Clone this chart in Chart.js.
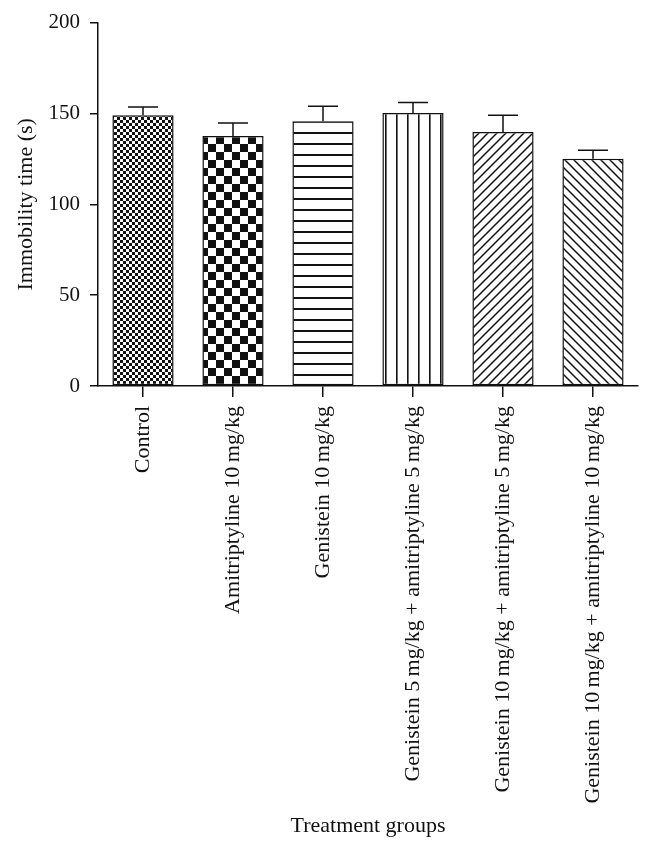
<!DOCTYPE html>
<html>
<head>
<meta charset="utf-8">
<script src="https://cdn.jsdelivr.net/npm/chart.js@4.4.1/dist/chart.umd.min.js"></script>
<style>
  html,body{margin:0;padding:0;background:#fff;}
  #wrap{width:653px;height:848px;}
</style>
</head>
<body>
<div id="wrap"><canvas id="c" width="653" height="848"></canvas></div>
<script>
/* data */
const groups=['Control','Amitriptyline 10\u2009mg/kg','Genistein 10\u2009mg/kg',
  'Genistein 5\u2009mg/kg + amitriptyline 5\u2009mg/kg',
  'Genistein 10\u2009mg/kg + amitriptyline 5\u2009mg/kg',
  'Genistein 10\u2009mg/kg + amitriptyline 10\u2009mg/kg'];
const immobility=[149.0,137.6,145.7,150.2,139.8,125.1];
const sem=[4.5,7.2,8.2,5.8,9.2,4.6];
const yTicks=[0,50,100,150,200];

const INK='#111';
const FONT='"Liberation Serif", "DejaVu Serif", serif';

/* fill patterns, one per bar */
function pat(w,h,draw){
  const cv=document.createElement('canvas');
  cv.width=w;cv.height=h;
  const g=cv.getContext('2d');
  g.fillStyle='#fff';g.fillRect(0,0,w,h);
  g.fillStyle=INK;g.strokeStyle=INK;
  draw(g,w,h);
  return document.getElementById('c').getContext('2d').createPattern(cv,'repeat');
}
function checker(s){
  return pat(s*2,s*2,(g)=>{g.fillRect(0,0,s,s);g.fillRect(s,s,s,s);});
}
const fills=[
  checker(3),
  checker(8),
  pat(11,11,(g,w)=>{g.fillRect(0,0,w,2);}),
  pat(11,11,(g,w,h)=>{g.fillRect(0,0,1.6,h);}),
  pat(9,9,(g,w,h)=>{g.lineWidth=1.5;g.beginPath();
    g.moveTo(-1,h+1);g.lineTo(w+1,-1);
    g.moveTo(-1,1);g.lineTo(1,-1);
    g.moveTo(w-1,h+1);g.lineTo(w+1,h-1);g.stroke();}),
  pat(9,9,(g,w,h)=>{g.lineWidth=1.5;g.beginPath();
    g.moveTo(-1,-1);g.lineTo(w+1,h+1);
    g.moveTo(w-1,-1);g.lineTo(w+1,1);
    g.moveTo(-1,h-1);g.lineTo(1,h+1);g.stroke();})
];

/* upward SEM whiskers */
const errorBars={
  id:'errorBars',
  afterDatasetsDraw(chart){
    const {ctx,scales:{x,y}}=chart;
    ctx.save();
    ctx.strokeStyle=INK;ctx.lineWidth=1.5;
    immobility.forEach((v,i)=>{
      const px=x.getPixelForValue(i);
      const top=y.getPixelForValue(v+sem[i]);
      ctx.beginPath();
      ctx.moveTo(px,y.getPixelForValue(v));ctx.lineTo(px,top);
      ctx.moveTo(px-15,top);ctx.lineTo(px+15,top);
      ctx.stroke();
    });
    ctx.restore();
  }
};

new Chart(document.getElementById('c'),{
  type:'bar',
  data:{labels:groups,datasets:[{
    data:immobility,
    backgroundColor:fills,
    borderColor:INK,borderWidth:1.5,borderSkipped:false,
    categoryPercentage:1,barPercentage:0.68
  }]},
  plugins:[errorBars],
  options:{
    responsive:false,animation:false,
    layout:{padding:{top:22,right:15,left:0,bottom:0}},
    plugins:{legend:{display:false},tooltip:{enabled:false}},
    scales:{
      x:{
        afterFit(s){s.height=462;},
        grid:{offset:false,drawOnChartArea:false,drawTicks:true,tickLength:11,color:INK,lineWidth:1.5},
        border:{display:true,color:INK,width:1.5},
        ticks:{color:INK,font:{family:FONT,size:22},maxRotation:90,minRotation:90,padding:9,autoSkip:false},
        title:{display:true,text:'Treatment groups',color:INK,font:{family:FONT,size:22},padding:{bottom:9}}
      },
      y:{
        min:0,max:200,
        afterFit(s){s.width=98;},
        afterBuildTicks(s){s.ticks=yTicks.map(v=>({value:v}));},
        grid:{drawOnChartArea:false,drawTicks:true,tickLength:8,color:INK,lineWidth:1.5},
        border:{display:true,color:INK,width:1.5},
        ticks:{color:INK,font:{family:FONT,size:21},padding:10},
        title:{display:true,text:'Immobility time (s)',color:INK,font:{family:FONT,size:22},padding:{top:13}}
      }
    }
  }
});
</script>
</body>
</html>
